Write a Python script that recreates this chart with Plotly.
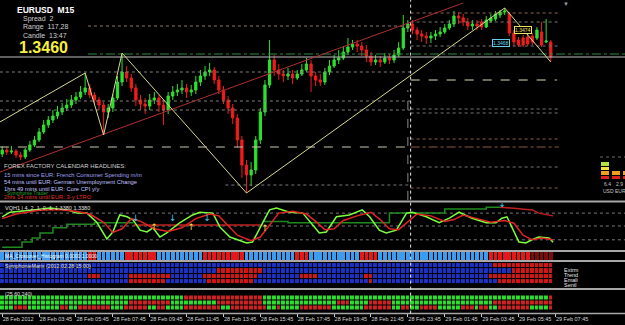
import plotly.graph_objects as go

# ---------------- data ----------------
bars = list(range(120))
opens = [1.3363, 1.3367, 1.3365, 1.3366, 1.3362, 1.3360, 1.3367, 1.3372, 1.3377, 1.3385,
         1.3392, 1.3397, 1.3401, 1.3405, 1.3409, 1.3412, 1.3417, 1.3420, 1.3425, 1.3429,
         1.3422, 1.3417, 1.3412, 1.3405, 1.3409, 1.3419, 1.3435, 1.3445, 1.3439, 1.3429,
         1.3417, 1.3413, 1.3411, 1.3417, 1.3419, 1.3412, 1.3407, 1.3421, 1.3425, 1.3427,
         1.3429, 1.3425, 1.3427, 1.3435, 1.3441, 1.3445, 1.3447, 1.3437, 1.3427, 1.3417,
         1.3409, 1.3399, 1.3377, 1.3352, 1.3342, 1.3347, 1.3377, 1.3405, 1.3432, 1.3457,
         1.3447, 1.3443, 1.3441, 1.3443, 1.3439, 1.3443, 1.3447, 1.3453, 1.3441, 1.3437,
         1.3435, 1.3445, 1.3451, 1.3457, 1.3459, 1.3465, 1.3470, 1.3473, 1.3471, 1.3467,
         1.3461, 1.3455, 1.3457, 1.3455, 1.3459, 1.3457, 1.3462, 1.3469, 1.3489, 1.3493,
         1.3487, 1.3483, 1.3481, 1.3479, 1.3481, 1.3483, 1.3485, 1.3489, 1.3493, 1.3501,
         1.3499, 1.3495, 1.3491, 1.3493, 1.3495, 1.3490, 1.3496, 1.3498, 1.3502, 1.3505,
         1.3503, 1.3484, 1.3477, 1.3479, 1.3480, 1.3481, 1.3479, 1.3485, 1.3475, 1.3475]
highs = [1.3371, 1.3370, 1.3371, 1.3368, 1.3365, 1.3369, 1.3376, 1.3381, 1.3389, 1.3397,
         1.3401, 1.3407, 1.3411, 1.3414, 1.3418, 1.3422, 1.3425, 1.3431, 1.3444, 1.3433,
         1.3425, 1.3420, 1.3415, 1.3413, 1.3423, 1.3441, 1.3464, 1.3451, 1.3443, 1.3433,
         1.3422, 1.3419, 1.3423, 1.3425, 1.3422, 1.3417, 1.3425, 1.3431, 1.3433, 1.3437,
         1.3433, 1.3432, 1.3441, 1.3447, 1.3451, 1.3454, 1.3450, 1.3441, 1.3431, 1.3421,
         1.3413, 1.3403, 1.3381, 1.3357, 1.3355, 1.3381, 1.3409, 1.3437, 1.3477, 1.3462,
         1.3453, 1.3447, 1.3449, 1.3447, 1.3447, 1.3453, 1.3459, 1.3457, 1.3445, 1.3443,
         1.3449, 1.3457, 1.3462, 1.3467, 1.3471, 1.3479, 1.3477, 1.3477, 1.3475, 1.3472,
         1.3465, 1.3462, 1.3461, 1.3464, 1.3463, 1.3467, 1.3475, 1.3502, 1.3497, 1.3497,
         1.3490, 1.3487, 1.3485, 1.3485, 1.3487, 1.3490, 1.3493, 1.3497, 1.3506, 1.3505,
         1.3503, 1.3499, 1.3497, 1.3497, 1.3498, 1.3501, 1.3503, 1.3506, 1.3507, 1.3509,
         1.3505, 1.3487, 1.3480, 1.3482, 1.3483, 1.3484, 1.3490, 1.3495, 1.3498, 1.3477]
lows = [1.3360, 1.3362, 1.3363, 1.3359, 1.3357, 1.3358, 1.3365, 1.3370, 1.3375, 1.3383,
        1.3389, 1.3394, 1.3398, 1.3402, 1.3406, 1.3409, 1.3413, 1.3418, 1.3422, 1.3419,
        1.3413, 1.3407, 1.3382, 1.3399, 1.3405, 1.3417, 1.3431, 1.3435, 1.3425, 1.3411,
        1.3407, 1.3403, 1.3407, 1.3413, 1.3405, 1.3392, 1.3403, 1.3417, 1.3421, 1.3423,
        1.3419, 1.3421, 1.3423, 1.3431, 1.3437, 1.3441, 1.3433, 1.3423, 1.3413, 1.3403,
        1.3393, 1.3369, 1.3339, 1.3324, 1.3331, 1.3343, 1.3373, 1.3401, 1.3429, 1.3441,
        1.3437, 1.3435, 1.3437, 1.3433, 1.3437, 1.3441, 1.3445, 1.3425, 1.3431, 1.3431,
        1.3432, 1.3442, 1.3449, 1.3453, 1.3457, 1.3462, 1.3467, 1.3465, 1.3461, 1.3455,
        1.3451, 1.3452, 1.3450, 1.3453, 1.3453, 1.3454, 1.3460, 1.3467, 1.3485, 1.3483,
        1.3477, 1.3475, 1.3473, 1.3474, 1.3477, 1.3480, 1.3483, 1.3487, 1.3490, 1.3493,
        1.3491, 1.3487, 1.3487, 1.3487, 1.3487, 1.3489, 1.3494, 1.3496, 1.3499, 1.3502,
        1.3481, 1.3471, 1.3470, 1.3470, 1.3471, 1.3472, 1.3477, 1.3470, 1.3474, 1.3455]
closes = [1.3367, 1.3365, 1.3366, 1.3362, 1.3360, 1.3367, 1.3372, 1.3377, 1.3385, 1.3392,
          1.3397, 1.3401, 1.3405, 1.3409, 1.3412, 1.3417, 1.3420, 1.3425, 1.3429, 1.3422,
          1.3417, 1.3412, 1.3405, 1.3409, 1.3419, 1.3435, 1.3445, 1.3439, 1.3429, 1.3417,
          1.3413, 1.3411, 1.3417, 1.3419, 1.3412, 1.3407, 1.3421, 1.3425, 1.3427, 1.3429,
          1.3425, 1.3427, 1.3435, 1.3441, 1.3445, 1.3447, 1.3437, 1.3427, 1.3417, 1.3409,
          1.3399, 1.3377, 1.3352, 1.3342, 1.3347, 1.3377, 1.3405, 1.3432, 1.3457, 1.3447,
          1.3443, 1.3441, 1.3443, 1.3439, 1.3443, 1.3447, 1.3453, 1.3441, 1.3437, 1.3435,
          1.3445, 1.3451, 1.3457, 1.3459, 1.3465, 1.3470, 1.3473, 1.3471, 1.3467, 1.3461,
          1.3455, 1.3457, 1.3455, 1.3459, 1.3457, 1.3462, 1.3469, 1.3489, 1.3493, 1.3487,
          1.3483, 1.3481, 1.3479, 1.3481, 1.3483, 1.3485, 1.3489, 1.3493, 1.3501, 1.3499,
          1.3495, 1.3491, 1.3493, 1.3491, 1.3490, 1.3497, 1.3499, 1.3503, 1.3505, 1.3506,
          1.3484, 1.3475, 1.3472, 1.3472, 1.3473, 1.3475, 1.3487, 1.3472, 1.3476, 1.3460]

tick_bars = [0, 8, 16, 24, 32, 40, 48, 56, 64, 72, 80, 88, 96, 104, 112, 120]
tick_labels = ["28 Feb 2012", "28 Feb 03:45", "28 Feb 05:45", "28 Feb 07:45", "28 Feb 09:45",
               "28 Feb 11:45", "28 Feb 13:45", "28 Feb 15:45", "28 Feb 17:45", "28 Feb 19:45",
               "28 Feb 21:45", "28 Feb 23:45", "29 Feb 01:45", "29 Feb 03:45", "29 Feb 05:45",
               "29 Feb 07:45"]

zigzag_bars = [-0.5, 18, 22, 26, 53, 109, 119]
zigzag_prices = [1.3395, 1.3444, 1.3382, 1.3464, 1.3324, 1.3509, 1.3455]
channel_bars = [-0.5, 100]
channel_prices = [1.3345, 1.3514]

level_prices = [1.3504, 1.3495, 1.3491, 1.3471, 1.3463, 1.3460, 1.3445, 1.3437, 1.3416,
                1.3407, 1.3408, 1.3404, 1.3378, 1.3370, 1.3370, 1.3350, 1.3332, 1.3329]
level_from = [88.6, 88.6, 18.6, 88.6, 18.6, -0.5, -0.5, 88.6, -0.5,
              -0.5, 88.6, 88.6, 88.6, -0.5, 88.6, 88.6, 48.4, 88.6]
level_to = [120.8, 120.8, 88.6, 120.8, 135.2, 135.2, 88.6, 120.3, 88.6,
            88.6, 120.8, 120.8, 120.8, 88.6, 120.8, 120.8, 88.6, 120.8]
level_dash = ["dot", "dot", "dot", "dot", "dashdot", "solid", "dot", "dash", "dot",
              "dot", "dot", "dot", "dot", "dash", "dashdot", "dot", "dot", "dot"]
level_color = ["#8a6a58", "#777777", "#8a7a6a", "#777777", "#2f8a3a", "#bdbdbd", "#808080", "#6e6e5c", "#808080",
               "#808080", "#777777", "#777777", "#8a6050", "#c8c8b0", "#8a5a48", "#777777", "#7a7a7a", "#8a6050"]
level_width = [1, 1, 1, 1, 1, 1, 1, 2, 1, 1, 1, 1, 1, 1, 1, 1, 1, 1]

# VQ indicator (0-100 scale)
vq_levels = [78, 50, 20]
lime_bar = [0, 1.7, 6.7, 10.4, 14.1, 16.2, 18.4, 20.6, 22.7, 24.0, 25.5, 27.1, 28.4, 29.9, 31.4,
            32.7, 34.2, 35.7, 38.5, 41.3, 42.9, 45.7, 47.2, 49.4, 53.0, 54.3, 56.5, 58.0, 59.5, 62.3,
            65.2, 66.7, 68.8, 70.3, 72.5, 75.3, 78.1, 79.7, 81.8, 83.3, 85.5, 87.7, 89.0, 92.0, 94.8,
            97.0, 99.1, 101.9, 105.0, 107.1, 108.4, 109.5, 110.6, 112.1, 113.6, 114.9, 116.4, 118.6, 119.5]
lime_val = [70, 80, 85, 89, 85, 78, 78, 57, 22, 37, 74, 70, 63, 41, 37,
            46, 26, 35, 57, 74, 80, 78, 48, 26, 13, 15, 57, 85, 89, 80,
            78, 59, 35, 37, 70, 74, 85, 70, 41, 35, 41, 78, 80, 70, 57,
            67, 80, 67, 57, 57, 67, 70, 48, 15, 13, 20, 26, 24, 15]
red_bar = [0, 3, 8, 12, 16, 19, 22, 24, 26, 28, 30, 33, 36, 39, 42, 45, 47, 49, 51, 54,
           56, 58, 60, 63, 66, 68, 70, 72, 74, 77, 80, 82, 84, 86, 88, 90, 93, 96, 98, 100,
           103, 106, 109, 111, 113, 115, 117, 119.5]
red_val = [66, 76, 84, 86, 82, 76, 58, 36, 44, 66, 60, 44, 38, 46, 66, 76, 72, 52, 30, 18,
           26, 52, 78, 82, 76, 60, 42, 44, 62, 72, 80, 64, 44, 42, 60, 76, 72, 60, 64, 74,
           66, 58, 62, 56, 30, 20, 24, 20]
slow_bar = [0, 4.3, 6.5, 8.2, 11, 14, 20, 28.5]
slow_val = [4, 15, 24, 35, 46, 54, 57, 57]
slow_red_bar = [28.5, 56.5]
slow_red_val = [52, 52]
slow2_bar = [56.5, 62, 84, 96, 105, 108]
slow2_val = [60, 57, 78, 87, 91, 91]
slow3_bar = [108, 115, 116.4, 119.5]
slow3_val = [91, 85, 78, 72]
up_arrow_bar = [33, 41, 57]
up_arrow_val = [46, 46, 43]
down_arrow_bar = [29, 37, 44.5, 108.5]
down_arrow_val = [66, 66, 66, 97]

# MA crossover histogram: state 0 blue, 1 red, 2 dark red
ma_red = [(19, 20), (27, 33), (44, 52), (64, 66), (78, 81), (106, 114)]
ma_darkred = [(115, 119)]

# SymphonieMarix rows (red ranges)
sym_rows = ["Extrm", "Trend", "Emali", "Sentl"]
sym_red = [
    [(107, 119)],
    [(47, 56), (111, 119)],
    [(19, 21), (28, 36), (44, 55), (65, 68), (79, 80), (106, 119)],
    [(28, 35), (45, 54), (80, 80), (108, 119)],
]
# (25,60,240) rows (red ranges)
tri_red = [
    [(40, 56), (119, 119)],
    [(28, 36), (47, 56), (73, 75), (80, 84), (107, 119)],
    [(3, 5), (13, 14), (17, 23), (27, 31), (34, 35), (40, 47), (50, 57), (60, 60), (65, 71),
     (79, 84), (87, 88), (91, 94), (100, 102), (104, 105), (108, 114), (119, 119)],
]

# currency strength widget
cur_names = ["USD", "EUR"]
cur_strength = ["6.4", "2.9"]
cur_segments = [4, 2, 2]
seg_colors = ["#e02020", "#f0a020", "#f0e040", "#b8e040"]

# ---------------- helpers ----------------
def expand(ranges, n=120, val=1, base=None):
    s = list(base) if base else [0] * n
    for a, b in ranges:
        for k in range(a, b + 1):
            s[k] = val
    return s

def px(x, y):
    return x / 625.0, 1 - y / 325.0

FONT = "Liberation Sans"
fig = go.Figure()

# main pane
for p, a, b, d, c, w in zip(level_prices, level_from, level_to, level_dash, level_color, level_width):
    fig.add_trace(go.Scatter(x=[a, b], y=[p, p], mode="lines", line=dict(color=c, width=w, dash=d),
                             xaxis="x", yaxis="y", hoverinfo="skip"))
fig.add_trace(go.Scatter(x=channel_bars, y=channel_prices, mode="lines",
                         line=dict(color="#b03030", width=1), xaxis="x", yaxis="y", hoverinfo="skip"))
fig.add_trace(go.Candlestick(x=bars, open=opens, high=highs, low=lows, close=closes,
                             increasing=dict(line=dict(color="#2ee02e", width=1), fillcolor="#2ee02e"),
                             decreasing=dict(line=dict(color="#f01c1c", width=1), fillcolor="#f01c1c"),
                             whiskerwidth=0, xaxis="x", yaxis="y"))
fig.add_trace(go.Scatter(x=zigzag_bars, y=zigzag_prices, mode="lines",
                         line=dict(color="#d8d890", width=1), xaxis="x", yaxis="y", hoverinfo="skip"))

# VQ pane
for lv in vq_levels:
    fig.add_trace(go.Scatter(x=[-0.5, 135.2], y=[lv, lv], mode="lines",
                             line=dict(color="#7a7a7a", width=1, dash="dot"), xaxis="x", yaxis="y2"))
fig.add_trace(go.Scatter(x=slow_bar, y=slow_val, mode="lines", line=dict(color="#1f8a1f", width=1.5, shape="hv"),
                         xaxis="x", yaxis="y2"))
fig.add_trace(go.Scatter(x=slow_red_bar, y=slow_red_val, mode="lines", line=dict(color="#c02020", width=1.5),
                         xaxis="x", yaxis="y2"))
fig.add_trace(go.Scatter(x=slow2_bar, y=slow2_val, mode="lines", line=dict(color="#1f8a1f", width=1.5, shape="hv"),
                         xaxis="x", yaxis="y2"))
fig.add_trace(go.Scatter(x=slow3_bar, y=slow3_val, mode="lines", line=dict(color="#c02020", width=1.5),
                         xaxis="x", yaxis="y2"))
fig.add_trace(go.Scatter(x=lime_bar, y=lime_val, mode="lines", line=dict(color="#7cff3c", width=1.5),
                         xaxis="x", yaxis="y2"))
fig.add_trace(go.Scatter(x=red_bar, y=red_val, mode="lines", line=dict(color="#e02424", width=1.5),
                         xaxis="x", yaxis="y2"))
fig.add_trace(go.Scatter(x=up_arrow_bar, y=up_arrow_val, mode="text", text=["↑"] * len(up_arrow_bar),
                         textfont=dict(color="#f0e040", size=9, family="DejaVu Sans"), xaxis="x", yaxis="y2"))
fig.add_trace(go.Scatter(x=down_arrow_bar, y=down_arrow_val, mode="text", text=["↓"] * len(down_arrow_bar),
                         textfont=dict(color="#40c8f0", size=9, family="DejaVu Sans"), xaxis="x", yaxis="y2"))

# MA crossover histogram
ma_state = expand(ma_darkred, val=2, base=expand(ma_red, val=1))
ma_cols = {0: "#3c9cf0", 1: "#e41818", 2: "#7a0c0c"}
fig.add_trace(go.Bar(x=bars, y=[1.0] * len(bars), marker=dict(color=[ma_cols[s] for s in ma_state], line=dict(width=0)),
                     width=0.8, xaxis="x", yaxis="y3"))

# SymphonieMarix
sym_z = [expand(r) for r in sym_red]
fig.add_trace(go.Heatmap(z=sym_z, x=bars, y=list(range(len(sym_rows))), zmin=0, zmax=1,
                         colorscale=[[0, "#1c32c4"], [1, "#d41616"]], showscale=False, xgap=1, ygap=1,
                         xaxis="x", yaxis="y4"))
# (25,60,240)
tri_z = [expand(r) for r in tri_red]
fig.add_trace(go.Heatmap(z=tri_z, x=bars, y=list(range(len(tri_red))), zmin=0, zmax=1,
                         colorscale=[[0, "#2ae02a"], [1, "#d42020"]], showscale=False, xgap=1, ygap=1,
                         xaxis="x", yaxis="y5"))

# currency widget
for lvl, col in enumerate(seg_colors):
    fig.add_trace(go.Bar(x=[0, 1, 2], y=[1 if n > lvl else 0 for n in cur_segments],
                         marker=dict(color=col, line=dict(color="#000000", width=1.5)), width=0.85,
                         xaxis="x2", yaxis="y6"))

# ---------------- layout ----------------
shapes = []
for yp, w in [(201.5, 2), (251, 2), (261, 2), (289, 2), (313.5, 1.5)]:
    shapes.append(dict(type="line", xref="paper", yref="paper", x0=0, x1=1, y0=1 - yp / 325, y1=1 - yp / 325,
                       line=dict(color="#a8a8a8", width=w)))
shapes.append(dict(type="line", xref="x", yref="paper", x0=88.6, x1=88.6, y0=0.035, y1=1,
                   line=dict(color="#e8e8e8", width=1, dash="dot")))
shapes.append(dict(type="line", xref="x", yref="paper", x0=88.0, x1=88.0, y0=1 - 200 / 325, y1=1 - 90 / 325,
                   line=dict(color="#8a8a8a", width=1, dash="dash")))
shapes.append(dict(type="line", xref="paper", yref="paper", x0=600 / 625, x1=1, y0=1 - 157 / 325, y1=1 - 157 / 325,
                   line=dict(color="#6a6a6a", width=1, dash="dot")))

ann = []
def text(x, y, t, size=6, color="#d8d8d8", bold=False, anchor="left"):
    ax, ay = px(x, y)
    ann.append(dict(x=ax, y=ay, xref="paper", yref="paper", text=("<b>%s</b>" % t) if bold else t,
                    showarrow=False, xanchor=anchor, yanchor="middle",
                    font=dict(family=FONT, size=size, color=color)))

text(15, 10, "EURUSD  M15", 8.5, "#ffffff", True)
text(21, 19, "Spread  2", 7, "#d0d0d0")
text(21, 27, "Range  117,28", 7, "#d0d0d0")
text(21, 35, "Candle  13:47", 7, "#d0d0d0")
text(17, 48, "1.3460", 16, "#f8f040", True)
text(2, 166, "FOREX FACTORY CALENDAR HEADLINES:", 6, "#d0d0d0")
text(2, 175, "15 mins since EUR: French Consumer Spending m/m", 5.8, "#a0a0f0")
text(2, 182, "54 mins until EUR: German Unemployment Change", 5.8, "#c4c4ff")
text(2, 189, "1hrs 49 mins until EUR: Core CPI y/y", 5.8, "#c4c4ff")
text(5, 192.5, "Symphonie Trader", 5, "#2c9c2c")
text(2, 196.5, "2hrs 14 mins until EUR: 3-y LTRO", 5.8, "#e03030")
text(3, 208, "VQH1 | 4, 2, 1, 0, 1, 1.3380 1.3380", 5.5, "#e0e0e0")
text(3, 256, "MA_Crossover_Histogram 0.0000 1.0000", 5, "#ffffff")
text(3, 266, "SymphonieMarix (2012.02.28 15:00)", 5.3, "#e0e0e0")
text(3, 294, "(25,60,240)", 5.3, "#e0e0e0")
for k, name in enumerate(sym_rows):
    text(562, 270 + 5 * k, name, 5.5, "#e8e8e8")
text(566, 4, "▼", 6, "#9a9a9a", anchor="center")
for k, (nm, st) in enumerate(zip(cur_names, cur_strength)):
    text(602 + 11.5 * k, 184, st, 5, "#c8c8c8")
    text(601 + 11.5 * k, 190.5, nm, 5, "#c8c8c8")

ann.append(dict(x=113, y=1.3487, xref="x", yref="y", text="1.3474", showarrow=False,
                font=dict(family=FONT, size=5, color="#f0e060"), bordercolor="#f0e060", borderwidth=1,
                borderpad=0, bgcolor="#000000"))
ann.append(dict(x=108.3, y=1.3474, xref="x", yref="y", text="1.3468", showarrow=False,
                font=dict(family=FONT, size=5, color="#60d0f0"), bordercolor="#60d0f0", borderwidth=1,
                borderpad=0, bgcolor="#000000"))

def ydom(top, bottom):
    return [1 - bottom / 325, 1 - top / 325]

hidden = dict(visible=False, showgrid=False, zeroline=False, fixedrange=True, automargin=False)
fig.update_layout(
    width=625, height=325, margin=dict(l=0, r=0, t=0, b=0, autoexpand=False),
    paper_bgcolor="#000000", plot_bgcolor="#000000",
    showlegend=False, barmode="stack", bargap=0,
    xaxis=dict(domain=[0, 1], range=[-0.477, 135.1], anchor="y5", showgrid=False, zeroline=False,
               rangeslider=dict(visible=False), tickmode="array", tickvals=tick_bars, ticktext=tick_labels,
               ticks="outside", ticklen=3, tickcolor="#c8c8c8", ticklabelposition="outside right",
               tickangle=0, automargin=False,
               tickfont=dict(family=FONT, size=5.5, color="#d8d8d8"), showline=False),
    yaxis=dict(domain=ydom(3, 201), range=[1.3316, 1.3514], **hidden),
    yaxis2=dict(domain=ydom(203, 249), range=[0, 100], anchor="x", **hidden),
    yaxis3=dict(domain=ydom(252, 260), range=[0, 1], anchor="x", **hidden),
    yaxis4=dict(domain=ydom(262, 288), range=[4.2, -0.7], anchor="x", **hidden),
    yaxis5=dict(domain=ydom(290, 313), range=[3.0, -1.6], anchor="x", **hidden),
    xaxis2=dict(domain=[600 / 625, 1], range=[-0.5, 1.77], anchor="y6", **hidden),
    yaxis6=dict(domain=ydom(162, 180), range=[0, 4], anchor="x2", **hidden),
    shapes=shapes, annotations=ann,
)

fig.write_html("out.html")
